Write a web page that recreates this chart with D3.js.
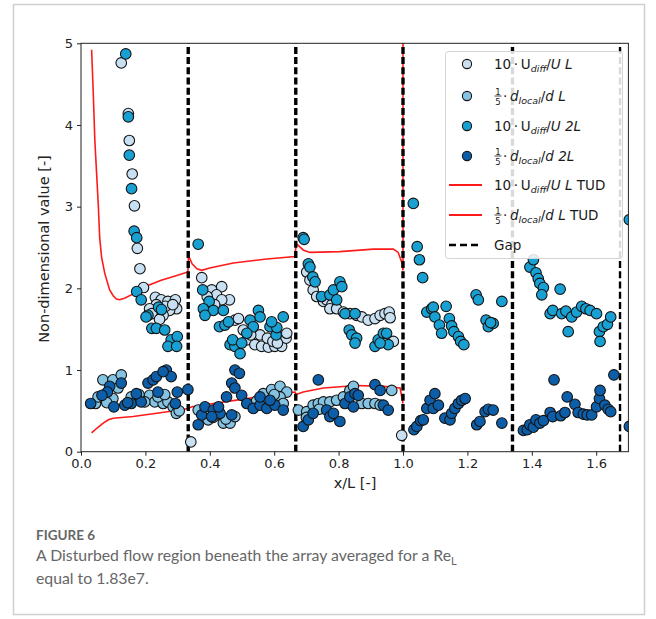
<!DOCTYPE html>
<html>
<head>
<meta charset="utf-8">
<script src="https://cdn.jsdelivr.net/npm/d3@7/dist/d3.min.js"></script>
<style>
  body { margin: 0; background: #fff; }
  svg { display: block; }
</style>
</head>
<body>
<div id="chart"></div>
<script>
// ---- data: [x/L, value] ----
const uDiffL = [
  [0.125,4.76],[0.147,4.14],[0.150,3.81],[0.159,3.40],[0.166,3.01],[0.175,2.49],[0.183,2.24],[0.194,2.01],
  [0.231,1.89],[0.249,1.86],[0.270,1.84],[0.293,1.86],[0.297,1.75],[0.275,1.73],[0.255,1.67],[0.234,1.80],
  [0.213,1.75],[0.220,1.69],[0.244,1.62],[0.262,1.78],[0.285,1.80],
  [0.341,0.12],
  [0.375,2.13],[0.406,1.98],[0.437,2.02],[0.421,1.92],[0.461,1.86],[0.437,1.86],[0.392,1.90],[0.415,1.80],
  [0.478,1.61],[0.489,1.63],
  [0.504,1.49],[0.515,1.37],[0.540,1.31],[0.561,1.29],[0.582,1.28],[0.602,1.29],[0.623,1.29],[0.637,1.39],
  [0.639,1.45],[0.556,1.43],[0.579,1.39],[0.527,1.43],[0.596,1.35],[0.610,1.33],
  [0.701,2.20],[0.711,2.10],[0.721,1.98],[0.732,1.90],[0.753,1.84],[0.763,1.86],[0.779,1.80],[0.773,1.75],
  [0.794,1.75],[0.815,1.71],[0.835,1.69],[0.856,1.67],[0.872,1.65],[0.892,1.61],[0.913,1.63],[0.929,1.67],
  [0.944,1.69],[0.957,1.71],[0.960,1.64],[0.970,1.35],
  [0.996,0.20]
];
const dLocalL = [
  [0.045,0.59],[0.053,0.67],[0.068,0.88],[0.099,0.88],[0.125,0.94],[0.099,0.65],[0.080,0.60],[0.115,0.78],
  [0.156,0.67],[0.213,0.69],[0.229,0.61],[0.255,0.59],[0.270,0.61],[0.286,0.55],[0.296,0.47],[0.239,0.67],
  [0.198,0.61],[0.305,0.50],[0.180,0.70],[0.260,0.70],
  [0.364,0.51],[0.395,0.39],[0.442,0.35],[0.463,0.35],[0.478,0.43],[0.421,0.45],[0.450,0.40],[0.410,0.42],
  [0.566,0.71],[0.592,0.76],[0.618,0.80],[0.639,0.73],[0.618,0.67],[0.628,0.59],[0.600,0.70],[0.545,0.62],
  [0.675,0.51],[0.701,0.49],[0.721,0.57],[0.737,0.59],[0.753,0.61],[0.773,0.61],[0.794,0.63],[0.815,0.67],
  [0.835,0.75],[0.846,0.80],[0.872,0.59],[0.892,0.59],[0.913,0.59],[0.929,0.57],[0.965,0.75],[0.700,0.42],
  [0.740,0.52]
];
const uDiff2L = [
  [0.139,4.87],[0.147,4.10],[0.150,3.63],[0.157,3.22],[0.165,2.70],[0.173,2.62],[0.173,1.96],[0.187,1.86],
  [0.241,1.77],[0.208,1.67],[0.202,1.65],[0.220,1.51],[0.234,1.51],[0.260,1.49],[0.280,1.37],[0.299,1.41],
  [0.270,1.29],[0.297,1.29],[0.250,1.74],
  [0.364,2.54],[0.378,1.98],[0.398,1.84],[0.380,1.75],[0.411,1.73],[0.442,1.73],[0.385,1.67],[0.430,1.53],
  [0.447,1.55],[0.458,1.59],
  [0.463,1.31],[0.478,1.29],[0.494,1.20],[0.471,1.37],[0.499,1.33],
  [0.551,1.73],[0.556,1.65],[0.525,1.61],[0.535,1.53],[0.515,1.45],[0.587,1.53],[0.606,1.43],[0.628,1.65],
  [0.608,1.52],[0.592,1.59],
  [0.690,2.62],[0.693,2.60],[0.706,2.30],[0.711,2.26],[0.720,2.14],[0.727,2.08],[0.747,1.90],[0.773,1.92],
  [0.784,1.98],[0.794,1.86],[0.804,2.08],[0.810,2.02],[0.820,1.69],[0.851,1.69],
  [0.833,1.49],[0.841,1.43],[0.856,1.39],[0.851,1.33],[0.913,1.29],[0.923,1.37],[0.939,1.45],[0.949,1.45],
  [0.954,1.31],[0.929,1.33],
  [1.032,3.04],[1.044,2.51],[1.051,2.35],[1.061,2.13],
  [1.074,1.71],[1.089,1.75],[1.094,1.77],[1.099,1.65],[1.113,1.55],[1.120,1.45],[1.134,1.78],[1.144,1.63],
  [1.151,1.54],[1.158,1.47],[1.172,1.41],[1.179,1.35],[1.189,1.31],
  [1.227,1.92],[1.234,1.86],[1.258,1.61],[1.265,1.53],[1.280,1.57],[1.272,1.58],[1.307,1.84],
  [1.394,2.26],[1.405,2.35],[1.413,2.19],[1.420,2.12],[1.425,2.06],[1.436,2.01],[1.431,1.92],[1.488,1.99],
  [1.457,1.69],[1.465,1.73],[1.493,1.69],[1.506,1.72],[1.524,1.65],[1.539,1.71],[1.555,1.78],[1.568,1.75],
  [1.581,1.73],[1.601,1.69],[1.513,1.47],
  [1.610,1.47],[1.612,1.35],[1.622,1.53],[1.635,1.56],[1.645,1.65],
  [1.703,2.84]
];
const dLocal2L = [
  [0.030,0.59],[0.089,0.80],[0.125,0.84],[0.082,0.73],[0.065,0.69],[0.102,0.55],
  [0.136,0.57],[0.156,0.59],[0.187,0.61],[0.172,0.71],[0.208,0.84],[0.224,0.88],[0.234,0.92],[0.265,1.00],
  [0.280,0.92],[0.255,0.98],[0.239,0.73],[0.299,0.73],[0.332,0.76],[0.293,0.59],[0.145,0.60],
  [0.478,1.00],[0.492,0.96],[0.468,0.84],[0.478,0.78],[0.499,0.69],[0.452,0.67],
  [0.364,0.33],[0.375,0.45],[0.385,0.55],[0.411,0.51],[0.432,0.47],[0.406,0.43],[0.427,0.55],[0.468,0.45],
  [0.515,0.59],[0.535,0.53],[0.556,0.57],[0.577,0.53],[0.602,0.57],[0.628,0.51],[0.556,0.67],[0.587,0.63],
  [0.737,0.88],
  [0.690,0.31],[0.706,0.39],[0.721,0.47],[0.763,0.51],[0.773,0.43],[0.804,0.37],[0.784,0.47],[0.820,0.59],
  [0.835,0.67],[0.851,0.71],[0.861,0.69],[0.913,0.82],[0.929,0.75],[0.939,0.57],[0.954,0.51],[0.846,0.55],
  [1.034,0.27],[1.043,0.31],[1.055,0.38],[1.063,0.39],[1.074,0.53],[1.084,0.63],[1.099,0.71],[1.094,0.53],
  [1.110,0.57],
  [1.130,0.41],[1.146,0.39],[1.151,0.47],[1.161,0.53],[1.172,0.59],[1.182,0.63],[1.193,0.65],
  [1.229,0.33],[1.239,0.37],[1.255,0.49],[1.265,0.52],[1.280,0.51],[1.307,0.35],
  [1.469,0.88],[1.374,0.26],[1.386,0.27],[1.394,0.33],[1.405,0.30],[1.413,0.39],[1.425,0.35],[1.436,0.38],
  [1.457,0.48],[1.465,0.43],[1.490,0.44],[1.503,0.48],[1.510,0.67],[1.534,0.58],[1.544,0.48],[1.560,0.46],
  [1.572,0.45],[1.586,0.45],[1.601,0.55],[1.610,0.65],[1.612,0.75],[1.627,0.57],[1.637,0.52],[1.645,0.49],
  [1.655,0.94],[1.703,0.31]
];
// TUD reference curves
const tudU = [
  [0.033,4.92],[0.038,4.40],[0.043,3.81],[0.054,3.00],[0.058,2.62],[0.064,2.38],[0.074,2.18],[0.089,1.98],
  [0.100,1.91],[0.110,1.87],[0.120,1.86],[0.135,1.88],[0.156,1.92],[0.198,2.02],[0.249,2.10],[0.300,2.16],
  [0.332,2.20],[0.334,2.40],[0.345,2.30],[0.360,2.24],[0.375,2.22],[0.400,2.25],[0.473,2.31],[0.577,2.36],
  [0.665,2.39],[0.668,2.55],[0.690,2.47],[0.711,2.44],[0.804,2.45],[0.908,2.48],[0.970,2.48],[0.985,2.44],
  [0.996,2.32],[1.000,2.22],[1.000,5.50]
];
const tudD = [
  [0.033,0.23],[0.050,0.29],[0.069,0.35],[0.085,0.39],[0.100,0.41],[0.162,0.43],[0.235,0.47],[0.307,0.51],
  [0.332,0.53],[0.345,0.55],[0.411,0.59],[0.515,0.65],[0.618,0.71],[0.665,0.73],[0.668,0.70],[0.690,0.73],
  [0.753,0.78],[0.856,0.81],[0.939,0.80],[0.991,0.78],[1.000,0.59]
];
const gaps = [0.333, 0.667, 1.0, 1.34, 1.674];
const xTicks = [0, 0.2, 0.4, 0.6, 0.8, 1.0, 1.2, 1.4, 1.6];
const yTicks = [0, 1, 2, 3, 4, 5];

const colA = "#c8e0f1", colB = "#84c3e1", colC = "#18a0d3", colD = "#0c5ea9";

const W = 656, H = 619;
const svg = d3.select("#chart").append("svg").attr("width", W).attr("height", H);
const font = "'DejaVu Sans', sans-serif";

// outer frame
svg.append("rect").attr("x", 13.5).attr("y", 4.5).attr("width", 631).attr("height", 610)
  .attr("fill", "none").attr("stroke", "#cfcfcf").attr("stroke-width", 1.5);

const x = d3.scaleLinear().domain([0, 1.7]).range([81, 628.4]);
const y = d3.scaleLinear().domain([0, 5]).range([451.7, 43.3]);

svg.append("clipPath").attr("id", "plotclip").append("rect")
  .attr("x", 81).attr("y", 43.3).attr("width", 628.4 - 81).attr("height", 451.7 - 43.3);

const plot = svg.append("g").attr("clip-path", "url(#plotclip)");

const line = d3.line().x(d => x(d[0])).y(d => y(d[1]));
plot.append("path").datum(tudU).attr("d", line).attr("fill", "none").attr("stroke", "#ff1a1a").attr("stroke-width", 1.6);
plot.append("path").datum(tudD).attr("d", line).attr("fill", "none").attr("stroke", "#ff1a1a").attr("stroke-width", 1.6);

plot.selectAll("line.gap").data(gaps).enter().append("line").attr("class", "gap")
  .attr("x1", d => x(d)).attr("x2", d => x(d)).attr("y1", y(0)).attr("y2", y(5))
  .attr("stroke", "#000").attr("stroke-width", (d, i) => i === 4 ? 2.4 : 3.4)
  .attr("stroke-dasharray", "7,3.2");

function scatter(data, color) {
  plot.append("g").selectAll("circle").data(data).enter().append("circle")
    .attr("cx", d => x(d[0])).attr("cy", d => y(d[1])).attr("r", 5.3)
    .attr("fill", color).attr("stroke", "#141414").attr("stroke-width", 1.1);
}
scatter(uDiffL, colA);
scatter(dLocalL, colB);
scatter(uDiff2L, colC);
scatter(dLocal2L, colD);

// spines
svg.append("rect").attr("x", 81).attr("y", 43.3).attr("width", 628.4 - 81).attr("height", 451.7 - 43.3)
  .attr("fill", "none").attr("stroke", "#222").attr("stroke-width", 1);

// axes
const xAxis = svg.append("g").attr("transform", "translate(0,451.7)")
  .call(d3.axisBottom(x).tickValues(xTicks).tickFormat(d3.format(".1f")).tickSize(4).tickPadding(3));
const yAxis = svg.append("g").attr("transform", "translate(81,0)")
  .call(d3.axisLeft(y).tickValues(yTicks).tickFormat(d3.format("d")).tickSize(4).tickPadding(4));
[xAxis, yAxis].forEach(a => {
  a.select(".domain").remove();
  a.selectAll(".tick line").attr("stroke", "#222");
  a.selectAll(".tick text").attr("fill", "#222").style("font-family", font).style("font-size", "13px");
});

svg.append("text").attr("x", 355).attr("y", 488).attr("text-anchor", "middle")
  .style("font-family", font).style("font-size", "14.5px").attr("fill", "#222").text("x/L [-]");
svg.append("text").attr("transform", "translate(49,249) rotate(-90)").attr("text-anchor", "middle")
  .style("font-family", font).style("font-size", "14.5px").attr("fill", "#222").text("Non-dimensional value [-]");

// legend
const lg = svg.append("g").style("font-family", font).style("font-size", "13.5px").attr("fill", "#1a1a1a");
lg.append("rect").attr("x", 445.5).attr("y", 51.5).attr("width", 177).attr("height", 207).attr("rx", 3)
  .attr("fill", "#fff").attr("fill-opacity", 0.85).attr("stroke", "#d4d4d4");

const rows = [64, 96, 126, 156, 185, 215, 245];
const tx = 494;

function uLabel(row, tail) {
  const t = lg.append("text").attr("x", tx).attr("y", row + 5);
  t.append("tspan").text("10\u2009\u00b7\u2009U");
  t.append("tspan").attr("font-size", "9.5px").attr("font-style", "italic").attr("dy", 3).text("diff");
  t.append("tspan").attr("dy", -3).text("/");
  t.append("tspan").attr("font-style", "italic").text("U ");
  t.append("tspan").attr("font-style", "italic").text(tail[0]);
  if (tail[1]) t.append("tspan").text(tail[1]);
}
function dLabel(row, tail) {
  lg.append("text").attr("x", tx + 4).attr("y", row - 1).attr("text-anchor", "middle").attr("font-size", "8.5px").text("1");
  lg.append("line").attr("x1", tx + 0.5).attr("x2", tx + 7.5).attr("y1", row).attr("y2", row).attr("stroke", "#1a1a1a").attr("stroke-width", 0.8);
  lg.append("text").attr("x", tx + 4).attr("y", row + 8.5).attr("text-anchor", "middle").attr("font-size", "8.5px").text("5");
  const t = lg.append("text").attr("x", tx + 9).attr("y", row + 5);
  t.append("tspan").text("\u00b7\u2009");
  t.append("tspan").attr("font-style", "italic").text("d");
  t.append("tspan").attr("font-size", "9.5px").attr("font-style", "italic").attr("dy", 3).text("local");
  t.append("tspan").attr("dy", -3).text("/");
  t.append("tspan").attr("font-style", "italic").text("d ");
  t.append("tspan").attr("font-style", "italic").text(tail[0]);
  if (tail[1]) t.append("tspan").text(tail[1]);
}

const markerCols = [colA, colB, colC, colD];
markerCols.forEach((c, i) => {
  lg.append("circle").attr("cx", 467).attr("cy", rows[i]).attr("r", 4.6)
    .attr("fill", c).attr("stroke", "#141414").attr("stroke-width", 1.1);
});
uLabel(rows[0], ["L"]);
dLabel(rows[1], ["L"]);
uLabel(rows[2], ["2L"]);
dLabel(rows[3], ["2L"]);
[4, 5].forEach(i => lg.append("line").attr("x1", 449).attr("x2", 482).attr("y1", rows[i]).attr("y2", rows[i])
  .attr("stroke", "#ff1a1a").attr("stroke-width", 1.8));
uLabel(rows[4], ["L", " TUD"]);
dLabel(rows[5], ["L", " TUD"]);
lg.append("line").attr("x1", 449).attr("x2", 482).attr("y1", rows[6]).attr("y2", rows[6])
  .attr("stroke", "#000").attr("stroke-width", 2.4).attr("stroke-dasharray", "7,4");
lg.append("text").attr("x", tx).attr("y", rows[6] + 5).text("Gap");

// caption
const cap = svg.append("g").style("font-family", "Lato, sans-serif").attr("fill", "#666");
cap.append("text").attr("x", 36).attr("y", 540).style("font-size", "13.5px").style("font-weight", 700).text("FIGURE 6");
const c1 = cap.append("text").attr("x", 36).attr("y", 561).style("font-size", "15.8px");
c1.append("tspan").text("A Disturbed flow region beneath the array averaged for a Re");
c1.append("tspan").attr("font-size", "11px").attr("dy", 4).text("L");
cap.append("text").attr("x", 36).attr("y", 584).style("font-size", "15.8px").text("equal to 1.83e7.");
</script>
</body>
</html>
